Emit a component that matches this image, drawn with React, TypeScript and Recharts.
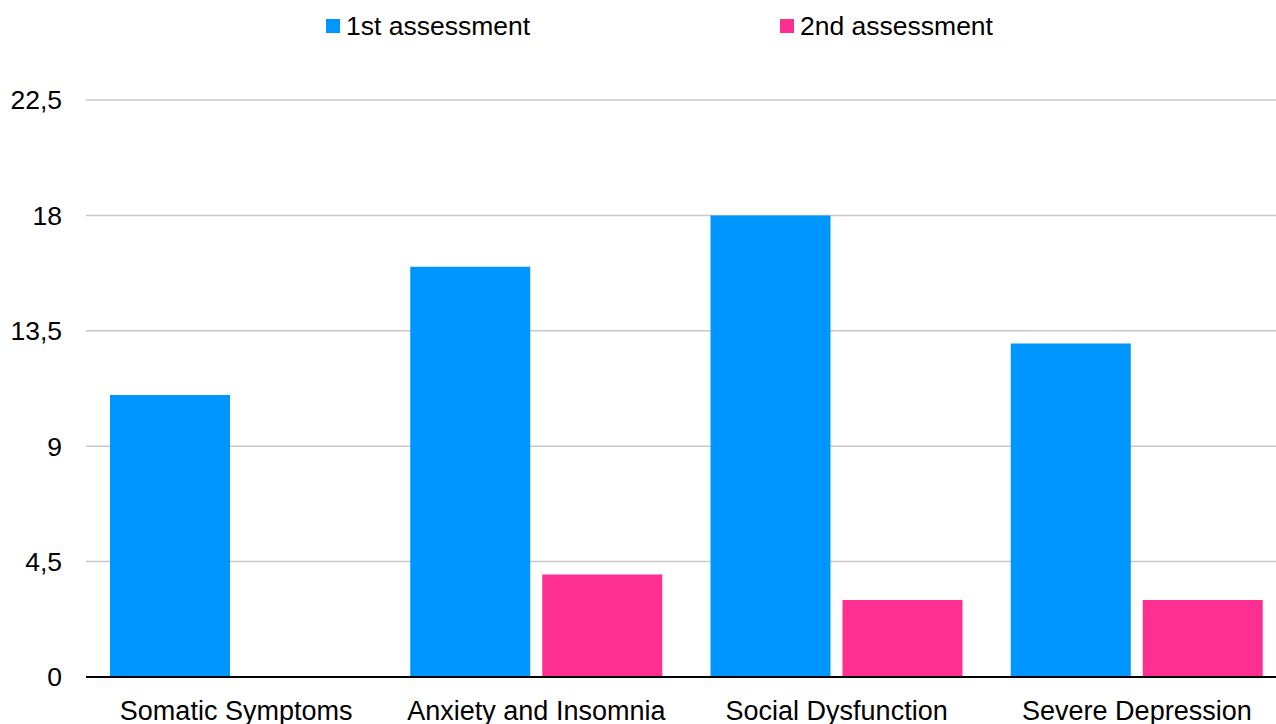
import React from "react";
import { BarChart, Bar, XAxis, YAxis, CartesianGrid } from "recharts";

const categories = ["Somatic Symptoms", "Anxiety and Insomnia", "Social Dysfunction", "Severe Depression"];
const firstAssessment = [11, 16, 18, 13];
const secondAssessment = [0, 4, 3, 3];
const yTicks = [0, 4.5, 9, 13.5, 18, 22.5];
const seriesNames = ["1st assessment", "2nd assessment"];
const seriesColors = ["#0096ff", "#ff2f92"];

const data = categories.map((c, i) => ({
  name: c,
  first: firstAssessment[i],
  second: secondAssessment[i],
}));

const FONT = "'Liberation Sans', Arial, Helvetica, sans-serif";

export default function App() {
  return (
    <div style={{ position: "absolute", left: 0, top: 0, width: 1276, height: 724, background: "#fff", fontFamily: FONT, overflow: "hidden" }}>
      <div style={{ position: "absolute", top: 10, left: 0, width: 1276, height: 32 }}>
        {seriesNames.map((n, i) => (
          <div
            key={n}
            style={{
              position: "absolute",
              left: i === 0 ? 326 : 780,
              top: 0,
              height: 32,
              display: "flex",
              alignItems: "center",
              fontSize: 26.5,
              color: "#000",
              whiteSpace: "nowrap",
            }}
          >
            <span style={{ display: "inline-block", width: 14, height: 14, background: seriesColors[i], marginRight: 6 }} />
            <span>{n}</span>
          </div>
        ))}
      </div>
      <BarChart
        width={1276}
        height={724}
        data={data}
        margin={{ top: 100, right: -11, bottom: 0, left: -1 }}
        barCategoryGap={24}
        barGap={12}
        style={{ position: "absolute", left: 0, top: 0 }}
      >
        <CartesianGrid horizontal vertical={false} stroke="#c8c8c8" strokeWidth={1.5} />
        <XAxis
          dataKey="name"
          axisLine={{ stroke: "#000", strokeWidth: 2 }}
          tickLine={false}
          tickMargin={18}
          interval={0}
          tick={{ fill: "#000", fontSize: 27, fontFamily: FONT }}
          height={47}
        />
        <YAxis
          width={87}
          domain={[0, 22.5]}
          ticks={yTicks}
          axisLine={false}
          tickLine={false}
          tickMargin={18}
          tickFormatter={(v: number) => String(v).replace(".", ",")}
          tick={{ fill: "#000", fontSize: 26.5, fontFamily: FONT }}
        />
        <Bar dataKey="first" name={seriesNames[0]} fill={seriesColors[0]} isAnimationActive={false} />
        <Bar dataKey="second" name={seriesNames[1]} fill={seriesColors[1]} isAnimationActive={false} />
      </BarChart>
    </div>
  );
}
